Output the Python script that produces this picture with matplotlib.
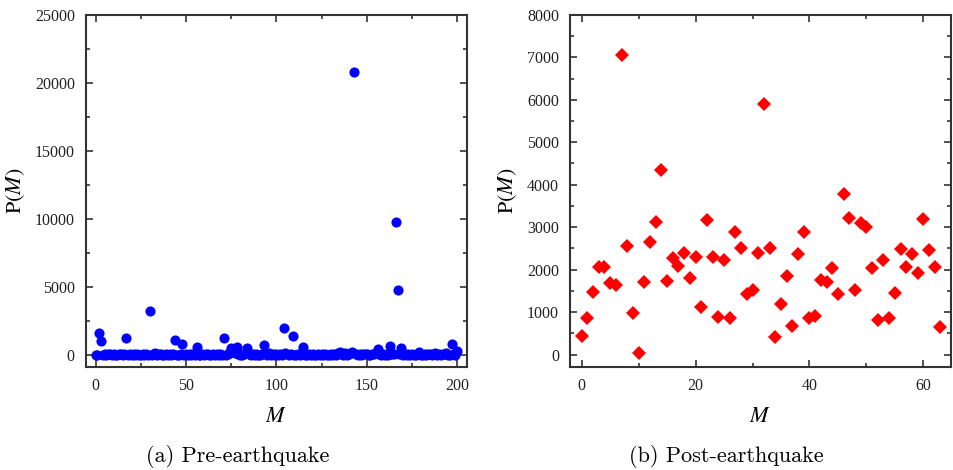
import numpy as np
import matplotlib
matplotlib.use("Agg")
import matplotlib.pyplot as plt
from matplotlib.ticker import MultipleLocator

plt.rcParams['font.family'] = ['Liberation Serif', 'DejaVu Serif']
plt.rcParams['mathtext.fontset'] = 'stix'

# (a) pre-earthquake, M = 0..200
pre_m = np.arange(201)
pre_p = [
    30, 20, 1600, 1060, 40, 60, 20, 110, 50, 30, 70, 40, 20, 80, 50, 30, 60, 1260, 40, 90,
    20, 50, 30, 60, 20, 40, 70, 30, 50, 20, 3250, 40, 60, 170, 30, 50, 80, 20, 40, 60,
    30, 50, 20, 70, 1110, 40, 30, 60, 840, 20, 50, 40, 80, 30, 60, 20, 570, 40, 30, 70,
    20, 50, 100, 30, 40, 60, 20, 50, 30, 70, 40, 1280, 30, 60, 150, 490, 220, 130, 590, 80,
    40, 30, 60, 160, 540, 50, 20, 70, 30, 60, 40, 20, 90, 760, 50, 30, 150, 40, 60, 20,
    50, 30, 70, 40, 2020, 150, 60, 30, 50, 1400, 40, 20, 60, 30, 80, 620, 40, 20, 60, 30,
    50, 20, 40, 70, 30, 60, 20, 50, 30, 40, 70, 20, 50, 30, 120, 250, 60, 30, 180, 40,
    60, 130, 250, 20800, 50, 40, 70, 30, 110, 50, 60, 20, 40, 70, 100, 180, 420, 60, 30, 50,
    40, 70, 30, 640, 50, 90, 9750, 4750, 60, 490, 40, 70, 30, 50, 20, 60, 40, 30, 70, 250,
    40, 20, 60, 30, 110, 50, 20, 80, 140, 40, 60, 30, 50, 90, 150, 40, 30, 840, 60, 20, 320,
]

# (b) post-earthquake, M = 0..63
post_m = np.arange(64)
post_p = [
    430, 850, 1480, 2055, 2055, 1690, 1640, 7050, 2560, 970,
    40, 1700, 2660, 3120, 4350, 1730, 2270, 2095, 2400, 1795,
    2305, 1125, 3165, 2305, 875, 2215, 865, 2880, 2520, 1420,
    1530, 2400, 5895, 2505, 415, 1190, 1850, 670, 2370, 2890,
    850, 905, 1755, 1700, 2045, 1425, 3785, 3205, 1520, 3105,
    3005, 2030, 825, 2230, 850, 1440, 2490, 2070, 2360, 1915,
    3190, 2465, 2055, 655,
]

fig = plt.figure(figsize=(9.54, 4.70), dpi=100)
ax1 = fig.add_axes([0.0901, 0.2185, 0.399, 0.750])
ax2 = fig.add_axes([0.5975, 0.2185, 0.399, 0.750])

ax1.plot(pre_m, pre_p, 'o', color='#0000ff', markersize=7.3, markeredgewidth=0)
ax2.plot(post_m, post_p, 'D', color='#ff0000', markersize=7, markeredgewidth=0)

ax1.set_xlim(-5.3, 205.2)
ax1.set_ylim(-900, 25000)
ax1.xaxis.set_major_locator(MultipleLocator(50))
ax1.xaxis.set_minor_locator(MultipleLocator(25))
ax1.yaxis.set_major_locator(MultipleLocator(5000))
ax1.yaxis.set_minor_locator(MultipleLocator(2500))

ax2.set_xlim(-2.05, 64.8)
ax2.set_ylim(-300, 8000)
ax2.xaxis.set_major_locator(MultipleLocator(20))
ax2.xaxis.set_minor_locator(MultipleLocator(10))
ax2.yaxis.set_major_locator(MultipleLocator(1000))
ax2.yaxis.set_minor_locator(MultipleLocator(500))

for ax in (ax1, ax2):
    for s in ax.spines.values():
        s.set_color('#333333')
        s.set_linewidth(1.5)
    ax.tick_params(which='both', direction='in', top=True, right=True,
                   color='#333333', width=1.2, labelsize=11.5, labelcolor='#222222')
    ax.tick_params(which='major', length=5, pad=8)
    ax.tick_params(which='minor', length=3)
    ax.set_xlabel(r'$M$', fontsize=16, labelpad=10)
    ax.set_ylabel(r'$\mathrm{P}(M)$', fontsize=16, labelpad=6)

fig.text(238 / 954, 0.028, '(a) Pre-earthquake', family='cmr10', fontsize=16,
         ha='center', va='center')
fig.text(726 / 954, 0.028, '(b) Post-earthquake', family='cmr10', fontsize=16,
         ha='center', va='center')

fig.savefig('out.png', dpi=100)
